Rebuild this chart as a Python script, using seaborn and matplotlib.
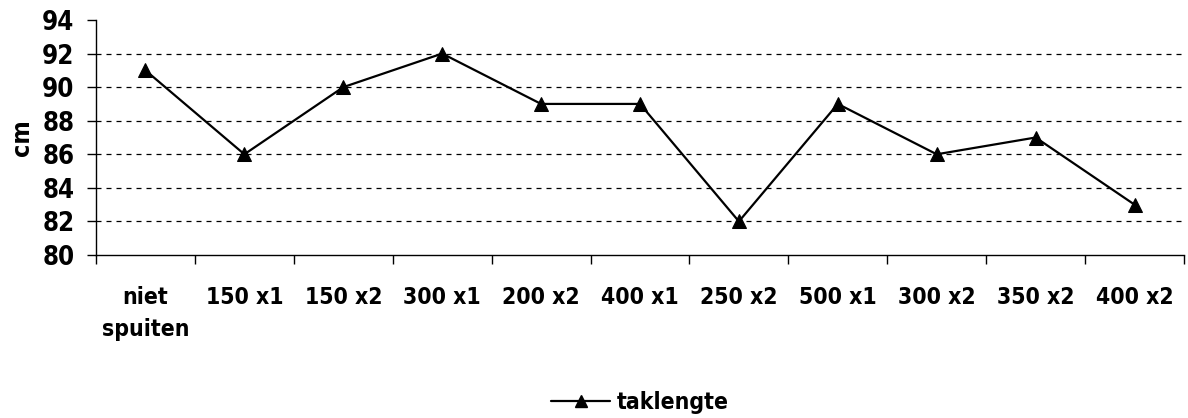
import matplotlib
matplotlib.use("Agg")
import matplotlib.pyplot as plt
import seaborn as sns
import pandas as pd
from matplotlib.lines import Line2D
from matplotlib import font_manager

categories = ["niet\nspuiten", "150 x1", "150 x2", "300 x1", "200 x2", "400 x1",
              "250 x2", "500 x1", "300 x2", "350 x2", "400 x2"]
taklengte = [91, 86, 90, 92, 89, 89, 82, 89, 86, 87, 83]
yticks = [80, 82, 84, 86, 88, 90, 92, 94]

sns.set_theme(style="white")
names = {f.name for f in font_manager.fontManager.ttflist}
fam = ['Liberation Sans Narrow', 'DejaVu Sans'] if 'Liberation Sans Narrow' in names else ['DejaVu Sans']
plt.rcParams['font.family'] = fam
plt.rcParams['font.weight'] = 'bold'
plt.rcParams['font.stretch'] = 'condensed'
for k in ["text.color", "axes.labelcolor", "xtick.color", "ytick.color"]:
    plt.rcParams[k] = "black"

df = pd.DataFrame({"behandeling": categories, "taklengte": taklengte})

W, H = 1188, 418
fig = plt.figure(figsize=(W / 100, H / 100), dpi=100)
ax = fig.add_axes([96 / W, 1 - 255 / H, (1184 - 96) / W, (255 - 20) / H])

sns.lineplot(data=df, x="behandeling", y="taklengte", sort=False, ax=ax,
             color="black", linewidth=1.6, marker="^", markersize=10,
             markeredgecolor="black", markerfacecolor="black")

ax.set_xlim(-0.5, len(categories) - 0.5)
ax.set_ylim(80, 94)
ax.set_yticks(yticks)
ax.set_yticklabels([str(v) for v in yticks], fontsize=18.5, fontweight="bold")
ax.set_xticks(range(len(categories)))
ax.set_xticklabels(categories, fontsize=16.5, fontweight="bold", linespacing=1.5,
                   va="top")
ax.tick_params(axis="x", which="major", length=0, pad=22)
ax.set_xticks([i + 0.5 for i in range(-1, len(categories))], minor=True)
ax.tick_params(axis="x", which="minor", length=6.5, width=1, color="black", direction="out",
               bottom=True)
ax.tick_params(axis="y", length=6.5, width=1, color="black", direction="out", left=True, pad=9)

for v in yticks[1:-1]:
    ax.axhline(v, color="black", linestyle=(0, (4, 4)), linewidth=0.9, zorder=0)

for s in ["top", "right"]:
    ax.spines[s].set_visible(False)
for s in ["left", "bottom"]:
    ax.spines[s].set_color("black")
    ax.spines[s].set_linewidth(1)

ax.set_xlabel("")
ax.set_ylabel("cm", fontsize=18, fontweight="bold", labelpad=6)

handle = Line2D([], [], color="black", linewidth=1.6, marker="^", markersize=9)
fig.legend([handle], ["taklengte"], loc="center", bbox_to_anchor=(640 / W, 1 - 403 / H),
           frameon=False, prop={"size": 16.5, "weight": "bold"}, handlelength=2.6,
           handletextpad=0.3)

fig.savefig("out.png", dpi=100)
